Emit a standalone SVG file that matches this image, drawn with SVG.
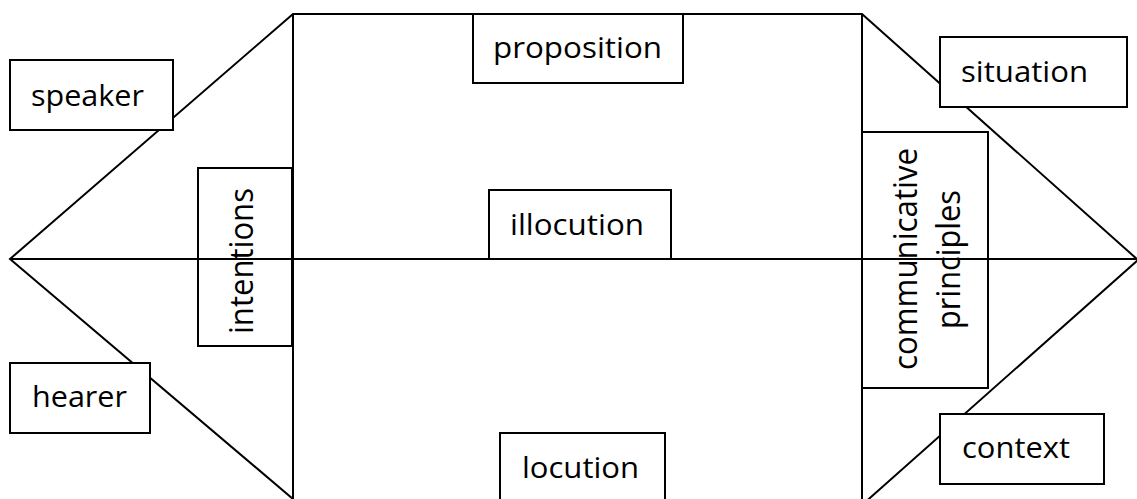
<svg xmlns="http://www.w3.org/2000/svg" width="1137" height="499" viewBox="0 0 1137 499">
<style>
.ln{stroke:#000;stroke-width:2;fill:none}
.box{fill:#fff;stroke:#000;stroke-width:2}
.t{font-family:"Open Sans","Noto Sans","Liberation Sans",sans-serif;font-size:29px;fill:#000}
.v{font-family:"Open Sans","Noto Sans","Liberation Sans",sans-serif;font-size:33px;fill:#000}
</style>
<rect width="1137" height="499" fill="#fff"/>
<g id="connectors">
<polyline class="ln" points="293,499 10,259 293,14 862,14 1138,260 862,505"/>
<line class="ln" x1="293" y1="14" x2="293" y2="499"/>
<line class="ln" x1="862" y1="14" x2="862" y2="499"/>
</g>
<g id="speaker"><rect class="box" x="10" y="60" width="163" height="70"/><text class="t" x="31" y="106" textLength="113" lengthAdjust="spacingAndGlyphs">speaker</text></g>
<g id="hearer"><rect class="box" x="10" y="363" width="140" height="70"/><text class="t" x="32" y="407" textLength="95" lengthAdjust="spacingAndGlyphs">hearer</text></g>
<g id="proposition"><rect class="box" x="473" y="14" width="210" height="69"/><text class="t" x="493" y="58" textLength="169" lengthAdjust="spacingAndGlyphs">proposition</text></g>
<g id="illocution"><rect class="box" x="489" y="190" width="182" height="69"/><text class="t" x="510" y="235" textLength="134" lengthAdjust="spacingAndGlyphs">illocution</text></g>
<g id="locution"><rect class="box" x="500" y="433" width="165" height="70"/><text class="t" x="522" y="478" textLength="117" lengthAdjust="spacingAndGlyphs">locution</text></g>
<g id="situation"><rect class="box" x="940" y="37" width="187" height="70"/><text class="t" x="961" y="82" textLength="127" lengthAdjust="spacingAndGlyphs">situation</text></g>
<g id="context"><rect class="box" x="940" y="414" width="164" height="70"/><text class="t" x="962" y="458" textLength="108" lengthAdjust="spacingAndGlyphs">context</text></g>
<g id="intentions"><rect class="box" x="198" y="168" width="94" height="178"/><text class="v" transform="translate(253,334) rotate(-90)" textLength="146" lengthAdjust="spacingAndGlyphs">intentions</text></g>
<g id="communicative-principles"><rect class="box" x="862" y="132" width="126" height="256"/><text class="v" transform="translate(917,370) rotate(-90)" textLength="222" lengthAdjust="spacingAndGlyphs">communicative</text><text class="v" transform="translate(960,329) rotate(-90)" textLength="139" lengthAdjust="spacingAndGlyphs">principles</text></g>
<g id="axis"><line class="ln" x1="10" y1="259" x2="1137" y2="259"/></g>
</svg>
